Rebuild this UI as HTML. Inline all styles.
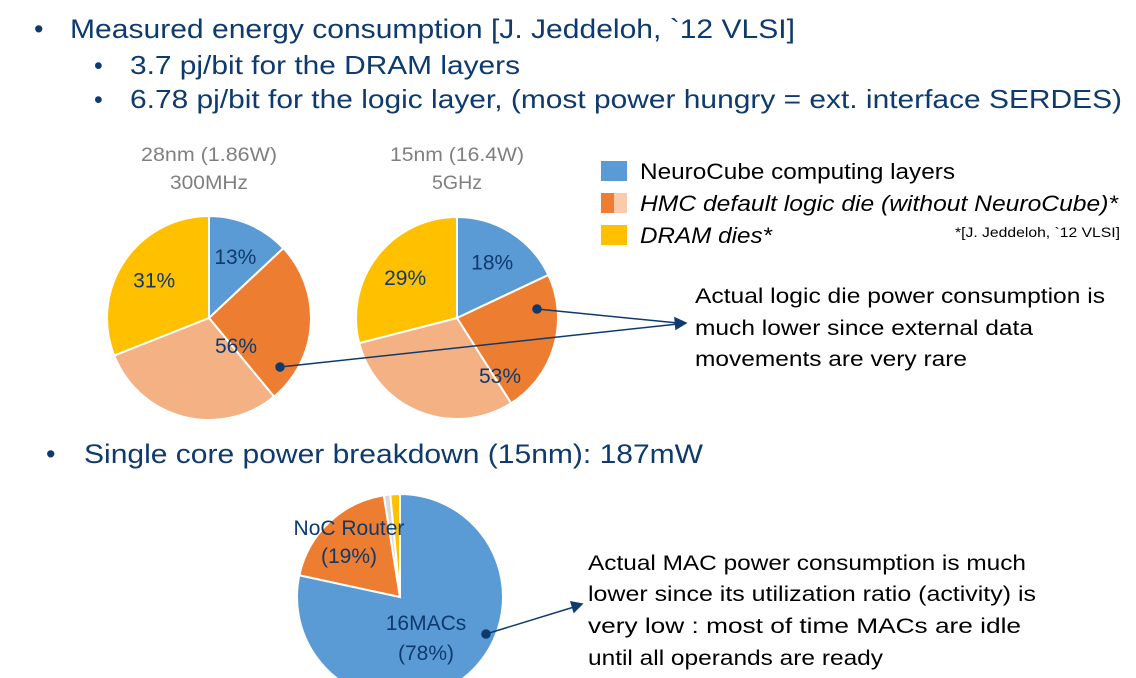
<!DOCTYPE html>
<html><head><meta charset="utf-8"><style>
body{margin:0;background:#fff;width:1136px;height:678px;overflow:hidden}
svg{display:block}
text{font-family:"Liberation Sans",sans-serif}
</style></head><body>
<svg id="s" width="1136" height="678" viewBox="0 0 1136 678">
<g fill="#0e3a6e" font-size="27" lengthAdjust="spacingAndGlyphs">
<text x="34" y="38">•</text>
<text x="70" y="38" textLength="725" lengthAdjust="spacingAndGlyphs">Measured energy consumption [J. Jeddeloh, `12 VLSI]</text>
<text x="94" y="74" font-size="25">•</text>
<text x="130" y="74" font-size="26" textLength="390" lengthAdjust="spacingAndGlyphs">3.7 pj/bit for the DRAM layers</text>
<text x="94" y="108" font-size="25">•</text>
<text x="130" y="108" font-size="26" textLength="992" lengthAdjust="spacingAndGlyphs">6.78 pj/bit for the logic layer, (most power hungry = ext. interface SERDES)</text>
<text x="46" y="463">•</text>
<text x="84" y="463" textLength="619" lengthAdjust="spacingAndGlyphs">Single core power breakdown (15nm): 187mW</text>
</g>
<g fill="#7f7f7f" font-size="19" text-anchor="middle">
<text x="209" y="161" textLength="136" lengthAdjust="spacingAndGlyphs">28nm (1.86W)</text>
<text x="209" y="189" textLength="78" lengthAdjust="spacingAndGlyphs">300MHz</text>
<text x="457" y="161" textLength="134" lengthAdjust="spacingAndGlyphs">15nm (16.4W)</text>
<text x="457" y="189" textLength="50" lengthAdjust="spacingAndGlyphs">5GHz</text>
</g>
<g id="pies"></g>
<g>
<rect x="601" y="161" width="26" height="20" fill="#5b9bd5"/>
<rect x="601" y="193" width="13" height="20" fill="#ed7d31"/>
<rect x="614" y="193" width="13" height="20" fill="#f8cbad"/>
<rect x="601" y="225" width="26" height="20" fill="#ffc000"/>
<g font-size="22" fill="#000">
<text x="640" y="179" textLength="315" lengthAdjust="spacingAndGlyphs">NeuroCube computing layers</text>
<text x="640" y="211" textLength="478" lengthAdjust="spacingAndGlyphs" font-style="italic">HMC default logic die (without NeuroCube)*</text>
<text x="640" y="243" textLength="132" lengthAdjust="spacingAndGlyphs" font-style="italic">DRAM dies*</text>
</g>
<text x="955" y="237" font-size="14" textLength="165" lengthAdjust="spacingAndGlyphs" fill="#000">*[J. Jeddeloh, `12 VLSI]</text>
</g>
<g font-size="21" fill="#000">
<text x="695" y="303" textLength="410" lengthAdjust="spacingAndGlyphs">Actual logic die power consumption is</text>
<text x="695" y="335" textLength="338" lengthAdjust="spacingAndGlyphs">much lower since external data</text>
<text x="695" y="366" textLength="272" lengthAdjust="spacingAndGlyphs">movements are very rare</text>
<text x="588" y="570" textLength="438" lengthAdjust="spacingAndGlyphs">Actual MAC power consumption is much</text>
<text x="588" y="601" textLength="448" lengthAdjust="spacingAndGlyphs">lower since its utilization ratio (activity) is</text>
<text x="588" y="633" textLength="433" lengthAdjust="spacingAndGlyphs">very low : most of time MACs are idle</text>
<text x="588" y="665" textLength="295" lengthAdjust="spacingAndGlyphs">until all operands are ready</text>
</g>
<g id="labels" fill="#0e3a6e" font-size="21" text-anchor="middle"></g>
<g stroke="#0e3a6e" stroke-width="1.5" fill="#0e3a6e">
<line x1="280" y1="367" x2="678" y2="324"/>
<line x1="537" y1="309" x2="678" y2="323"/>
<polygon points="686,323 675,318 676,329"/>
<circle cx="280" cy="367" r="4"/>
<circle cx="537" cy="309" r="4"/>
<line x1="486" y1="634" x2="574" y2="607"/>
<polygon points="582,604 571,602 574,612"/>
<circle cx="486" cy="634" r="4"/>
</g>
</svg>
<script>
const pie1Values=[13,26,30,31];
const pie2Values=[18,23,30,29];
const pie3Values=[78,19,1,1.5];
const pieColors=["#5b9bd5","#ed7d31","#f4b183","#ffc000"];
const pie3Colors=["#5b9bd5","#ed7d31","#d9d9d9","#ffc000"];
const pie1Labels=["13%","","","31%"];
const pie2Labels=["18%","","","29%"];
const NS="http://www.w3.org/2000/svg";
const g=document.getElementById('pies');
const lg=document.getElementById('labels');
function pt(cx,cy,r,f){const a=f*2*Math.PI;return [cx+r*Math.sin(a),cy-r*Math.cos(a)];}
function drawPie(name,cx,cy,r,vals,cols,labels){
  const tot=vals.reduce((a,b)=>a+b,0);let acc=0;
  vals.forEach((v,i)=>{
    const f0=acc/tot,f1=(acc+v)/tot;acc+=v;
    const p0=pt(cx,cy,r,f0),p1=pt(cx,cy,r,f1);
    const p=document.createElementNS(NS,'path');
    p.setAttribute('d',`M${cx},${cy}L${p0[0]},${p0[1]}A${r},${r} 0 ${f1-f0>0.5?1:0} 1 ${p1[0]},${p1[1]}Z`);
    p.setAttribute('fill',cols[i]);p.setAttribute('stroke','#fff');p.setAttribute('stroke-width','2');
    
    
    g.appendChild(p);
    if(labels&&labels[i]){
      const c=pt(cx,cy,r*0.65,(f0+f1)/2);
      const t=document.createElementNS(NS,'text');
      t.setAttribute('x',c[0]);t.setAttribute('y',c[1]+7);t.textContent=labels[i];
      
      
      lg.appendChild(t);
    }
  });
}
drawPie('pie-28nm',209,318,102,pie1Values,pieColors,pie1Labels);
drawPie('pie-15nm',457,318,101,pie2Values,pieColors,pie2Labels);
drawPie('pie-core',400,597,103,pie3Values,pie3Colors,null);
function lbl(x,y,s,n){const t=document.createElementNS(NS,'text');t.setAttribute('x',x);t.setAttribute('y',y);t.textContent=s;


lg.appendChild(t);}
lbl(236,353,(pie1Values[1]+pie1Values[2])+"%",'pie-28nm-logic-label');
lbl(500,383,(pie2Values[1]+pie2Values[2])+"%",'pie-15nm-logic-label');
lbl(349,535,"NoC Router",'pie-core-noc-label');
lbl(349,563,"("+pie3Values[1]+"%)",'pie-core-noc-pct');
lbl(426,630,"16MACs",'pie-core-mac-label');
lbl(426,660,"("+pie3Values[0]+"%)",'pie-core-mac-pct');
</script>
</body></html>
